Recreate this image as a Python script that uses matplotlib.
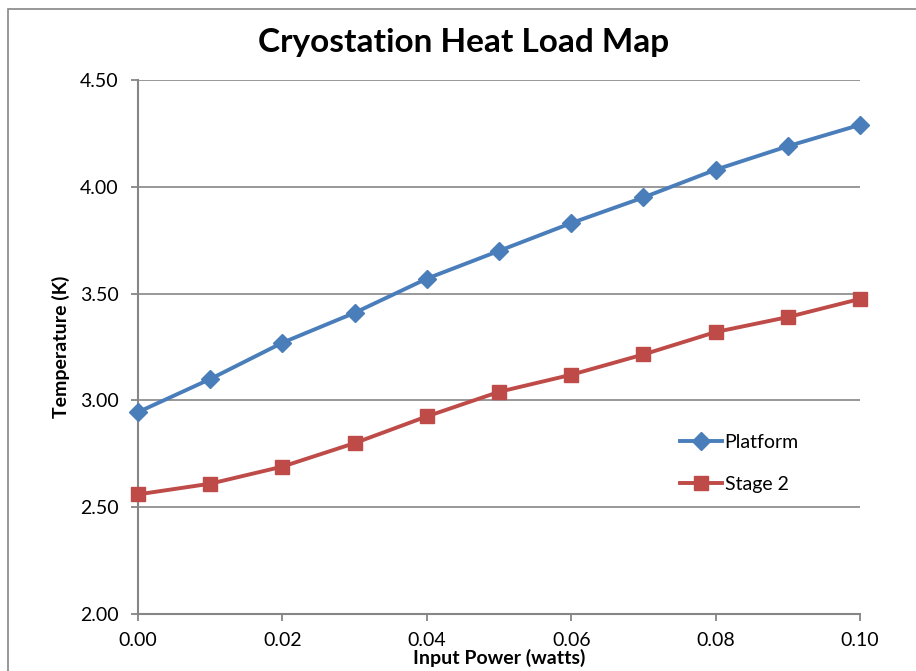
import matplotlib
matplotlib.use("Agg")
import matplotlib.pyplot as plt
from matplotlib.patches import Rectangle

plt.rcParams['font.family'] = ['Lato', 'DejaVu Sans']

power = [0.00, 0.01, 0.02, 0.03, 0.04, 0.05, 0.06, 0.07, 0.08, 0.09, 0.10]
platform = [2.945, 3.10, 3.27, 3.41, 3.57, 3.70, 3.83, 3.95, 4.08, 4.19, 4.29]
stage2 = [2.56, 2.61, 2.69, 2.80, 2.925, 3.04, 3.12, 3.215, 3.32, 3.39, 3.475]
xticks = [0.00, 0.02, 0.04, 0.06, 0.08, 0.10]
yticks = [2.00, 2.50, 3.00, 3.50, 4.00, 4.50]

W, H = 916, 671
fig = plt.figure(figsize=(W / 100, H / 100), dpi=100)
ax = fig.add_axes([138 / W, 1 - 614 / H, (860 - 138) / W, (614 - 80) / H])

# outer chart border (extends beyond the crop)
fig.patches.append(Rectangle((8 / W, -0.1), 1.2, 1 - 9 / H + 0.1, transform=fig.transFigure,
                             fill=False, edgecolor='#868686', linewidth=1.2, zorder=0))

grey = '#868686'
blue = '#4A7EBB'
red = '#BE4B48'

ax.plot(power, platform, color=blue, linewidth=2.8, marker='D', markersize=9.5,
        markerfacecolor=blue, markeredgecolor=blue, label='Platform', zorder=3, clip_on=False)
ax.plot(power, stage2, color=red, linewidth=2.8, marker='s', markersize=10,
        markerfacecolor=red, markeredgecolor=red, label='Stage 2', zorder=3, clip_on=False)

ax.set_xlim(0, 0.10)
ax.set_ylim(2.0, 4.5)
ax.set_xticks(xticks)
ax.set_xticklabels([f"{v:.2f}" for v in xticks])
ax.set_yticks(yticks)
ax.set_yticklabels([f"{v:.2f}" for v in yticks])

ax.grid(axis='y', color=grey, linewidth=1.2, zorder=1)
ax.set_axisbelow(True)
for s in ['top', 'right']:
    ax.spines[s].set_visible(False)
for s in ['left', 'bottom']:
    ax.spines[s].set_color(grey)
    ax.spines[s].set_linewidth(1.5)
ax.tick_params(axis='both', colors=grey, labelcolor='black', labelsize=14, length=5, width=1.3)
ax.tick_params(axis='y', pad=9)
ax.tick_params(axis='x', pad=8)

fig.text(464 / W, 1 - 52 / H, 'Cryostation Heat Load Map', fontsize=24, fontweight='bold',
         ha='center', va='baseline')
ax.set_ylabel('Temperature (K)', fontsize=14, fontweight='bold', labelpad=7)
ax.set_xlabel('Input Power (watts)', fontsize=14, fontweight='bold', labelpad=0)

leg = ax.legend(loc='upper left', bbox_to_anchor=(680 / W, 1 - 434 / H),
                bbox_transform=fig.transFigure, frameon=False, fontsize=14,
                handlelength=2.15, labelspacing=1.3, handletextpad=0.15,
                borderpad=0, borderaxespad=0)

fig.savefig('out.png', dpi=100)
